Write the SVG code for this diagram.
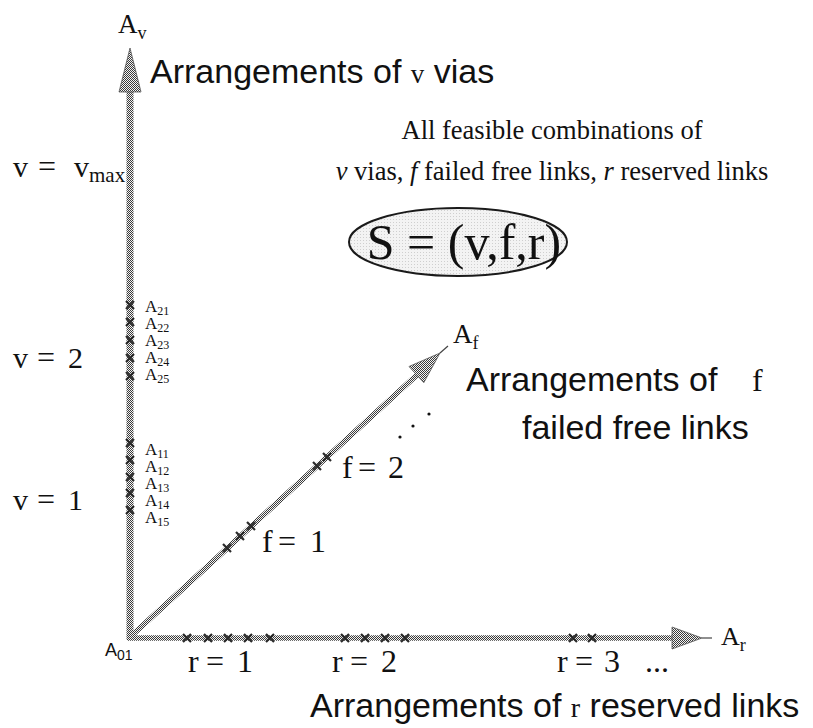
<svg xmlns="http://www.w3.org/2000/svg" width="813" height="728" viewBox="0 0 813 728">
<defs>
<pattern id="chk" width="2" height="2" patternUnits="userSpaceOnUse">
<rect width="2" height="2" fill="#f4f4f4"/>
<rect width="1" height="1" fill="#3a3a3a"/>
<rect x="1" y="1" width="1" height="1" fill="#3a3a3a"/>
</pattern>
<pattern id="dots" width="3" height="3" patternUnits="userSpaceOnUse">
<rect width="3" height="3" fill="#f3f3f3"/>
<rect width="1" height="1" fill="#cfcfcf"/>
</pattern>
<path id="xm" d="M-4,-4L4,4M4,-4L-4,4" stroke="#2a2a2a" stroke-width="2.2" fill="none"/>
</defs>
<style>
.serif{font-family:"Liberation Serif","Times New Roman",serif;fill:#111}
.sans{font-family:"Liberation Sans",Arial,sans-serif;fill:#111}
.axis{stroke:url(#chk);fill:none}
.head{fill:url(#chk);stroke:#555;stroke-width:0.8}
.thin{stroke:#444;stroke-width:1.2}
.al{font-size:17px}
.al tspan{font-size:12px}
</style>
<rect width="813" height="728" fill="#fff"/>

<g id="connectors">
<line class="axis" x1="130" y1="640" x2="130" y2="88" stroke-width="7"/>
<polygon class="head" points="130,48 141,92 119,92"/>
<line class="axis" x1="127" y1="638" x2="672" y2="638" stroke-width="5.5"/>
<polygon class="head" points="702,638 672,627 672,649"/>
<line class="thin" x1="702" y1="638" x2="712" y2="638"/>
<line class="axis" x1="130" y1="637" x2="418" y2="374" stroke-width="5.5"/>
<polygon class="head" points="440,353 423.8,382.7 409,366.5"/>
<line class="thin" x1="440" y1="353" x2="448" y2="346"/>
</g>

<g id="marks">
<use href="#xm" x="130" y="305"/><use href="#xm" x="130" y="322"/><use href="#xm" x="130" y="340"/><use href="#xm" x="130" y="358"/><use href="#xm" x="130" y="376"/>
<use href="#xm" x="130" y="443"/><use href="#xm" x="130" y="460"/><use href="#xm" x="130" y="477"/><use href="#xm" x="130" y="493"/><use href="#xm" x="130" y="510"/>
<use href="#xm" x="187" y="638"/><use href="#xm" x="208" y="638"/><use href="#xm" x="228" y="638"/><use href="#xm" x="248" y="638"/><use href="#xm" x="270" y="638"/>
<use href="#xm" x="345" y="638"/><use href="#xm" x="365" y="638"/><use href="#xm" x="385" y="638"/><use href="#xm" x="405" y="638"/>
<use href="#xm" x="573" y="638"/><use href="#xm" x="592" y="638"/>
<use href="#xm" x="227" y="548"/><use href="#xm" x="240" y="536"/><use href="#xm" x="251" y="526"/>
<use href="#xm" x="317" y="466"/><use href="#xm" x="327" y="457"/>
</g>

<g id="axis-labels">
<text class="serif" x="118" y="33" font-size="27">A<tspan font-size="18" dy="6">v</tspan></text>
<text class="serif" x="453" y="343" font-size="27">A<tspan font-size="18" dy="6">f</tspan></text>
<text class="serif" x="721" y="645" font-size="26">A<tspan font-size="18" dy="6">r</tspan></text>
<text class="sans" x="105" y="656" font-size="18">A<tspan font-size="14" dy="4">01</tspan></text>
</g>

<g id="v-arrangements">
<text class="sans" x="150" y="83" font-size="34">Arrangements of <tspan class="serif" font-size="27">v</tspan> vias</text>
</g>
<g id="f-arrangements">
<text class="sans" x="466" y="391" font-size="34">Arrangements of <tspan class="serif" font-size="32" x="752">f</tspan></text>
<text class="sans" x="522" y="439" font-size="34">failed free links</text>
</g>
<g id="r-arrangements">
<text class="sans" x="310" y="717" font-size="34">Arrangements of <tspan class="serif" font-size="28">r</tspan> reserved links</text>
</g>

<g id="v-levels">
<text class="serif" y="177" font-size="30"><tspan x="13">v</tspan><tspan x="38" font-size="32">=</tspan><tspan x="74">v</tspan><tspan font-size="21" dy="5">max</tspan></text>
<text class="serif" y="368" font-size="30"><tspan x="13">v</tspan><tspan x="37" font-size="32">=</tspan><tspan x="68">2</tspan></text>
<text class="serif" y="510" font-size="30"><tspan x="13">v</tspan><tspan x="37" font-size="32">=</tspan><tspan x="68">1</tspan></text>
</g>

<g id="v-arrangement-labels">
<text class="serif al" x="145" y="312">A<tspan dy="3">21</tspan></text>
<text class="serif al" x="145" y="329">A<tspan dy="3">22</tspan></text>
<text class="serif al" x="145" y="346">A<tspan dy="3">23</tspan></text>
<text class="serif al" x="145" y="363">A<tspan dy="3">24</tspan></text>
<text class="serif al" x="145" y="380">A<tspan dy="3">25</tspan></text>
<text class="serif al" x="145" y="455">A<tspan dy="3">11</tspan></text>
<text class="serif al" x="145" y="472">A<tspan dy="3">12</tspan></text>
<text class="serif al" x="145" y="489">A<tspan dy="3">13</tspan></text>
<text class="serif al" x="145" y="506">A<tspan dy="3">14</tspan></text>
<text class="serif al" x="145" y="523">A<tspan dy="3">15</tspan></text>
</g>

<g id="r-levels">
<text class="serif" y="672" font-size="32"><tspan x="188">r</tspan><tspan x="206">=</tspan><tspan x="237">1</tspan></text>
<text class="serif" y="672" font-size="32"><tspan x="332">r</tspan><tspan x="350">=</tspan><tspan x="381">2</tspan></text>
<text class="serif" y="672" font-size="32"><tspan x="557">r</tspan><tspan x="575">=</tspan><tspan x="604">3</tspan><tspan x="645">...</tspan></text>
</g>

<g id="f-levels">
<text class="serif" y="552" font-size="32"><tspan x="262">f</tspan><tspan x="278">=</tspan><tspan x="310">1</tspan></text>
<text class="serif" y="478" font-size="32"><tspan x="342">f</tspan><tspan x="358">=</tspan><tspan x="388">2</tspan></text>
<circle cx="400" cy="437" r="1.6" fill="#111"/>
<circle cx="413" cy="426" r="1.6" fill="#111"/>
<circle cx="429" cy="414" r="1.6" fill="#111"/>
</g>

<g id="note">
<text class="serif" x="552" y="139" font-size="26.5" text-anchor="middle">All feasible combinations of</text>
<text class="serif" x="552" y="180" font-size="26.5" text-anchor="middle"><tspan font-style="italic">v</tspan> vias, <tspan font-style="italic">f</tspan> failed free links, <tspan font-style="italic">r</tspan> reserved links</text>
</g>

<g id="state">
<ellipse cx="458" cy="242" rx="109" ry="34" fill="url(#dots)" stroke="#1a1a1a" stroke-width="2"/>
<text class="serif" x="464" y="259" font-size="50" text-anchor="middle">S = (v,f,r)</text>
</g>
</svg>
